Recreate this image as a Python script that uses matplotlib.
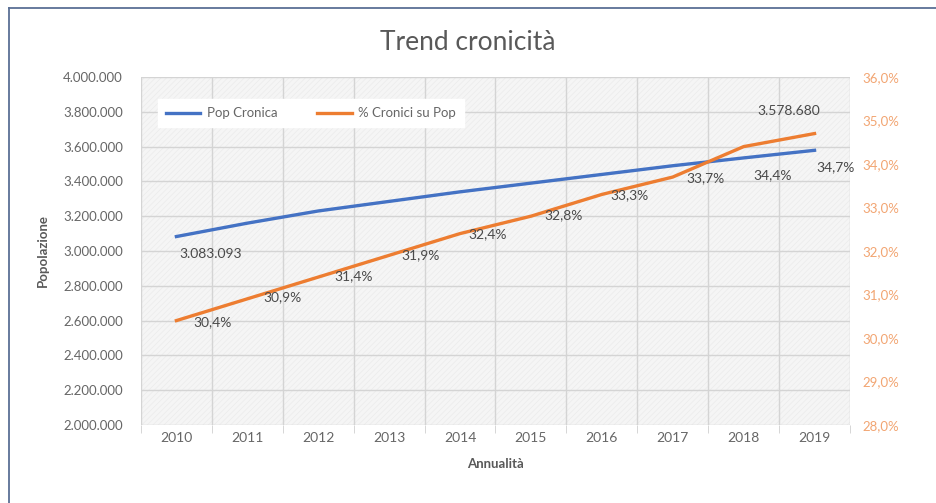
import matplotlib.pyplot as plt
import numpy as np
from matplotlib.lines import Line2D
from matplotlib.patches import Rectangle
from matplotlib.ticker import FixedLocator, FuncFormatter

plt.rcParams["font.family"] = ["Lato", "DejaVu Sans"]
plt.rcParams["hatch.linewidth"] = 0.5

years = ["2010", "2011", "2012", "2013", "2014", "2015", "2016", "2017", "2018", "2019"]
pop_cronica = [3083093, 3160000, 3230000, 3285000, 3340000, 3390000, 3440000, 3490000, 3535000, 3578680]
perc_cronici = [30.4, 30.9, 31.4, 31.9, 32.4, 32.8, 33.3, 33.7, 34.4, 34.7]

# label offsets in pixels (dx, dy) for the percentage labels
perc_offsets = [(36, -2), (35, 2), (35, 1), (31, 0), (28, -1), (33, 1),
                (28, -1), (33, -1), (29, -29), (21, -34)]

BLUE = "#4472C4"
ORANGE = "#ED7D31"
GREY_TXT = "#666666"
LABEL_TXT = "#4a4a4a"


def fmt_it(v):
    return f"{v:,.0f}".replace(",", ".")


def fmt_pct(v):
    return f"{v:.1f}%".replace(".", ",")


fig = plt.figure(figsize=(9.36, 5.03), dpi=100)
ax = fig.add_axes([0.1506, 0.1551, 0.7575, 0.6918])
ax2 = ax.twinx()

x = np.arange(len(years))

# patterned plot background
ax.set_facecolor("#f5f5f5")
ax.add_patch(Rectangle((0, 0), 1, 1, transform=ax.transAxes, facecolor="none",
                       edgecolor="#ebebeb", hatch="//////", lw=0, zorder=0))

l1, = ax.plot(x, pop_cronica, color=BLUE, lw=2.4, label="Pop Cronica", zorder=3)
l2, = ax2.plot(x, perc_cronici, color=ORANGE, lw=2.4, label="% Cronici su Pop", zorder=3)

ax.set_xlim(-0.5, len(years) - 0.5)
ax.set_ylim(2000000, 4000000)
ax2.set_ylim(28, 36)

ax.set_yticks(np.arange(2000000, 4000001, 200000))
ax.yaxis.set_major_formatter(FuncFormatter(lambda v, p: fmt_it(v)))
ax2.set_yticks(np.arange(28, 36.1, 1))
ax2.yaxis.set_major_formatter(FuncFormatter(lambda v, p: fmt_pct(v)))

ax.set_xticks(x)
ax.set_xticklabels(years)
ax.xaxis.set_minor_locator(FixedLocator(np.arange(-0.5, len(years), 1)))
ax.tick_params(axis="x", which="major", length=0, pad=5, labelsize=10, labelcolor=GREY_TXT)
ax.tick_params(axis="x", which="minor", length=6, color="#d0d0d0")
ax.tick_params(axis="y", length=0, pad=13, labelsize=9.5, labelcolor=GREY_TXT)
ax2.tick_params(axis="y", length=0, pad=9, labelsize=9.5, labelcolor="#F2A572")

ax.grid(axis="y", which="major", color="#d4d4d4", lw=1)
ax.grid(axis="x", which="minor", color="#d4d4d4", lw=1)
ax.set_axisbelow(True)

for a in (ax, ax2):
    for s in a.spines.values():
        s.set_visible(False)

ax.set_ylabel("Popolazione", fontsize=9.5, fontweight="bold", color="#595959", labelpad=10)
ax.set_xlabel("Annualità", fontsize=9.5, fontweight="bold", color="#595959", labelpad=10)

# data labels
ax.annotate(fmt_it(pop_cronica[0]), (x[0], pop_cronica[0]), xytext=(34, -17),
            textcoords="offset pixels", ha="center", va="center", fontsize=10, color=LABEL_TXT)
ax.annotate(fmt_it(pop_cronica[-1]), (x[-1], pop_cronica[-1]), xytext=(-26, 39),
            textcoords="offset pixels", ha="center", va="center", fontsize=10, color=LABEL_TXT)
for xi, v, off in zip(x, perc_cronici, perc_offsets):
    ax2.annotate(fmt_pct(v), (xi, v), xytext=off, textcoords="offset pixels",
                 ha="center", va="center", fontsize=10, color=LABEL_TXT, zorder=4)

leg = ax.legend(handles=[l1, l2], loc="upper left", ncol=2, fontsize=9.5,
                bbox_to_anchor=(0.015, 0.955), frameon=True, fancybox=False,
                columnspacing=3.0, handlelength=2.6, handletextpad=0.5, borderpad=0.6)
leg.get_frame().set_facecolor("white")
leg.get_frame().set_edgecolor("white")
leg.get_frame().set_alpha(1)
for t in leg.get_texts():
    t.set_color(GREY_TXT)

fig.text(0.5, 0.915, "Trend cronicità", ha="center", va="center", fontsize=19,
         fontweight="normal", color="#595959")

# chart frame: top and left edges
fig.add_artist(Line2D([9 / 936, 1], [1 - 8 / 503, 1 - 8 / 503], transform=fig.transFigure,
                      color="#5a6f95", lw=1.3))
fig.add_artist(Line2D([9 / 936, 9 / 936], [0, 1 - 8 / 503], transform=fig.transFigure,
                      color="#5a6f95", lw=1.3))

fig.savefig("out.png", dpi=100)
